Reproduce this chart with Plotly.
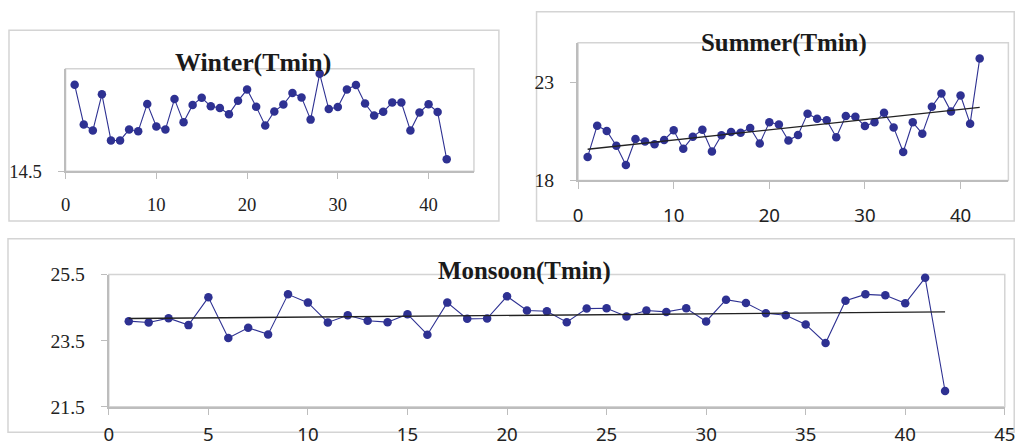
import plotly.graph_objects as go

W, H = 1026, 446

years = list(range(1, 43))

winter_tmin = [17.03, 15.87, 15.69, 16.75, 15.40, 15.40, 15.72, 15.67, 16.47, 15.81,
               15.72, 16.61, 15.93, 16.44, 16.65, 16.40, 16.35, 16.17, 16.56, 16.89,
               16.39, 15.84, 16.25, 16.45, 16.79, 16.66, 16.01, 17.35, 16.32, 16.38,
               16.89, 17.02, 16.48, 16.13, 16.24, 16.51, 16.51, 15.69, 16.22, 16.46,
               16.23, 14.85]

summer_tmin = [19.20, 20.79, 20.52, 19.77, 18.79, 20.11, 19.98, 19.84, 20.06, 20.55,
               19.62, 20.23, 20.58, 19.47, 20.30, 20.47, 20.43, 20.67, 19.88, 20.96,
               20.85, 20.03, 20.31, 21.40, 21.14, 21.06, 20.20, 21.28, 21.24, 20.77,
               20.96, 21.45, 20.70, 19.45, 20.96, 20.38, 21.75, 22.43, 21.51, 22.32,
               20.89, 24.20]

monsoon_tmin = [24.09, 24.05, 24.18, 23.97, 24.81, 23.58, 23.89, 23.69, 24.90, 24.65,
                24.05, 24.27, 24.10, 24.06, 24.30, 23.68, 24.65, 24.16, 24.17, 24.84,
                24.41, 24.39, 24.06, 24.47, 24.48, 24.23, 24.41, 24.37, 24.48, 24.08,
                24.74, 24.64, 24.33, 24.27, 23.99, 23.43, 24.71, 24.90, 24.87, 24.63,
                25.40, 21.98]

trend_x = [1, 42]
summer_trend = [19.59, 21.72]
monsoon_trend = [24.17, 24.37]

titles = ["Winter(Tmin)", "Summer(Tmin)", "Monsoon(Tmin)"]
winter_yticks = [14.5]
summer_yticks = [18, 23]
monsoon_yticks = [21.5, 23.5, 25.5]
winter_xticks = [0, 10, 20, 30, 40]
summer_xticks = [0, 10, 20, 30, 40]
monsoon_xticks = [0, 5, 10, 15, 20, 25, 30, 35, 40, 45]

MARK = "#2E3192"
AXIS = "#BDBDBD"
BORDER = "#D4D4D4"
SERIF = "Liberation Serif, serif"
SANS = "Noto Sans, sans-serif"

# the photographed page is slightly rescaled/offset: compensate (measured)
SX, OX, SY, OY = 0.986, 4.3, 0.953, 9.6
FS = 1 / 0.965  # font/marker compensation


def fx(p):
    return (p - OX) / SX


def fy(p):
    return (p - OY) / SY


def px_x(p):
    return min(max(fx(p), 0.6), W - 0.8) / W


def px_y(p):
    return 1 - min(max(fy(p), 0.8), H - 0.8) / H


fig = go.Figure()

series = [(winter_tmin, "x", "y"), (summer_tmin, "x2", "y2"), (monsoon_tmin, "x3", "y3")]
for vals, xa, ya in series:
    fig.add_trace(go.Scatter(x=years, y=vals, mode="lines+markers", xaxis=xa, yaxis=ya,
                             line=dict(color=MARK, width=1.1),
                             marker=dict(color=MARK, size=8.5), showlegend=False,
                             cliponaxis=False))

fig.add_trace(go.Scatter(x=trend_x, y=summer_trend, mode="lines", xaxis="x2", yaxis="y2",
                         line=dict(color="#222222", width=1.4), showlegend=False))
fig.add_trace(go.Scatter(x=trend_x, y=monsoon_trend, mode="lines", xaxis="x3", yaxis="y3",
                         line=dict(color="#222222", width=1.4), showlegend=False))

# plot areas in picture pixels: (left, top, right, bottom)
areas = [(65, 67.7, 474, 171), (578.3, 41.7, 1009.3, 180.3), (108.3, 275, 1005.7, 408.3)]
yranges = [[14.5, 17.5], [18, 25], [21.5, 25.5]]
ytickv = [winter_yticks, summer_yticks, monsoon_yticks]
xtickv = [winter_xticks, summer_xticks, monsoon_xticks]
xfonts = [dict(family=SERIF, size=18 * FS, color="#222"), dict(family=SANS, size=18 * FS, color="#222"),
          dict(family=SANS, size=18 * FS, color="#222")]
yfonts = [dict(family=SERIF, size=18 * FS, color="#222"), dict(family=SERIF, size=19 * FS, color="#222"),
          dict(family=SERIF, size=19 * FS, color="#222")]
xstand = [9, 11, 4]

layout = dict(width=W, height=H, margin=dict(l=0, r=0, t=0, b=0),
              paper_bgcolor="white", plot_bgcolor="white", showlegend=False)

shapes = []
for i, (l, t, r, b) in enumerate(areas):
    sfx = "" if i == 0 else str(i + 1)
    layout["xaxis" + sfx] = dict(domain=[px_x(l), px_x(r)], range=[0, 45], anchor="y" + sfx,
                                 tickvals=xtickv[i], ticks="outside", ticklen=6.3, tickcolor=AXIS,
                                 tickwidth=1.2, showline=True, linecolor=AXIS, linewidth=1.5,
                                 showgrid=False, zeroline=False, tickfont=xfonts[i],
                                 ticklabelstandoff=xstand[i], ticklabeloverflow="allow")
    layout["yaxis" + sfx] = dict(domain=[px_y(b), px_y(t)], range=yranges[i], anchor="x" + sfx,
                                 tickvals=ytickv[i], ticks="outside", ticklen=6.2, tickcolor=AXIS,
                                 tickwidth=1.2, showline=True, linecolor=AXIS, linewidth=1.5,
                                 showgrid=False, zeroline=False, tickfont=yfonts[i],
                                 ticklabelstandoff=12, ticklabeloverflow="allow")
    shapes.append(dict(type="rect", xref="paper", yref="paper",
                       x0=px_x(l), x1=px_x(r), y0=px_y(b), y1=px_y(t),
                       line=dict(color=BORDER, width=1.5), layer="below"))

# outer chart boxes (picture pixels)
outer = [(8.3, 29, 499, 221), (536.7, 8.3, 1021.7, 221), (7.3, 239, 1045, 470)]
for (l, t, r, b) in outer:
    shapes.append(dict(type="rect", xref="paper", yref="paper",
                       x0=px_x(l), x1=px_x(r), y0=px_y(b), y1=px_y(t),
                       line=dict(color=BORDER, width=1.5), layer="below"))
layout["shapes"] = shapes

title_pos = [(252.5, 61.7), (784.5, 41.7), (524.7, 271.3)]
title_size = [25, 24, 24]
annotations = []
for txt, (cx, cy), fs in zip(titles, title_pos, title_size):
    annotations.append(dict(text="<b>%s</b>" % txt, xref="paper", yref="paper",
                            x=px_x(cx), y=px_y(cy), xanchor="center", yanchor="middle",
                            showarrow=False,
                            font=dict(family=SERIF, size=fs * FS, color="#1a1a1a")))
layout["annotations"] = annotations

fig.update_layout(**layout)
fig.write_html("out.html")
